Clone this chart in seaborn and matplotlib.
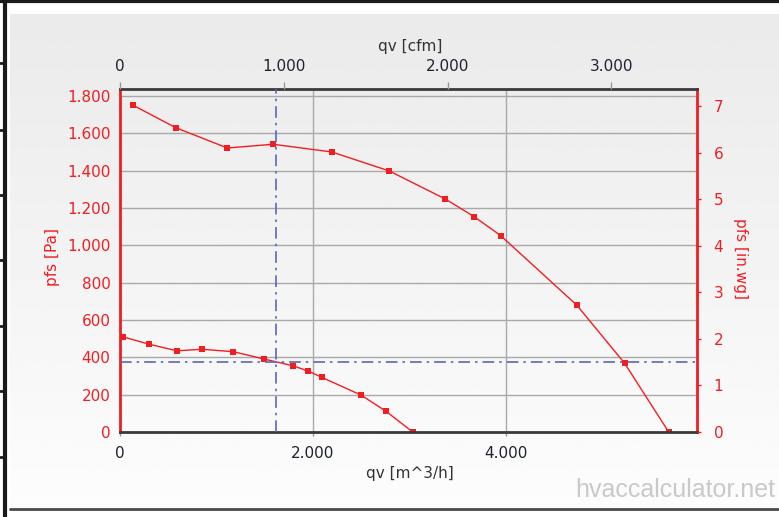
import numpy as np
import pandas as pd
import matplotlib
matplotlib.use('Agg')
import matplotlib.pyplot as plt
import seaborn as sns
from matplotlib.ticker import FuncFormatter

# fan curves: qv [m^3/h] / pfs [Pa]
upper_q = [130, 576, 1112, 1586, 2195, 2793, 3374, 3675, 3949, 4738, 5236, 5693]
upper_p = [1751, 1630, 1521, 1541, 1500, 1398, 1248, 1153, 1052, 680, 368, 0]
lower_q = [26, 302, 586, 852, 1174, 1492, 1790, 1950, 2091, 2499, 2759, 3036]
lower_p = [510, 470, 435, 443, 430, 391, 355, 327, 293, 198, 111, 0]

# operating point (dash-dot cross)
op_q = 1614
op_p = 376

# axes ranges and ticks
q_max = 5987
p_max = 1837
q_ticks = [0, 2000, 4000]
p_ticks = [0, 200, 400, 600, 800, 1000, 1200, 1400, 1600, 1800]
cfm_ticks = [0, 1000, 2000, 3000]
inwg_ticks = [0, 1, 2, 3, 4, 5, 6, 7]

M3H_PER_CFM = 1.699
PA_PER_INWG = 249.09

RED = '#f01e23'
BLUE = '#5a68b8'
GRID = '#a9a9a9'
FS = 11

sns.set_style('white')
plt.rcParams['font.family'] = ['DejaVu Sans']

fig = plt.figure(figsize=(7.79, 5.17), dpi=100)
fig.patch.set_facecolor('white')

# background panel with soft gray gradient, page borders
bg = fig.add_axes([0, 0, 1, 1], zorder=-10)
bg.set_xlim(0, 779)
bg.set_ylim(517, 0)
bg.axis('off')
grad = np.linspace(0.918, 0.99, 200).reshape(-1, 1)
bg.imshow(grad, cmap='gray', vmin=0, vmax=1, aspect='auto',
          extent=[10, 779, 507, 14], interpolation='bilinear')
bg.plot([10, 779], [509, 509], color='#4a4a4a', lw=2)
bg.plot([0, 779], [1, 1], color='#1a1a1a', lw=3)
bg.plot([5.5, 5.5], [0, 517], color='#1a1a1a', lw=3)
for yy in [63, 130, 195, 260, 326, 391, 457]:
    bg.plot([0, 5], [yy, yy], color='#1a1a1a', lw=2)
bg.text(775, 497, 'hvaccalculator.net', ha='right', va='baseline',
        fontsize=18, color='#c9c9c9', family=['Liberation Sans', 'DejaVu Sans'])

ax = fig.add_axes([120.2 / 779, 1 - 432 / 517, 576.8 / 779, 343 / 517])
ax.patch.set_alpha(0)

upper = pd.DataFrame({'qv': upper_q, 'pfs': upper_p})
lower = pd.DataFrame({'qv': lower_q, 'pfs': lower_p})
for df in [upper, lower]:
    sns.lineplot(data=df, x='qv', y='pfs', ax=ax, color=RED, lw=1,
                 marker='s', markersize=5, markeredgewidth=0, sort=False)

ax.axvline(op_q, color=BLUE, lw=1.2, ls=(0, (7, 3, 1.5, 3)), zorder=3)
ax.axhline(op_p, color=BLUE, lw=1.2, ls=(0, (7, 3, 1.5, 3)), zorder=3)

ax.set_xlim(0, q_max)
ax.set_ylim(0, p_max)
ax.set_xticks(q_ticks)
ax.set_yticks(p_ticks)
fmt = FuncFormatter(lambda v, _: f'{int(round(v)):,}'.replace(',', '.'))
ax.xaxis.set_major_formatter(fmt)
ax.yaxis.set_major_formatter(fmt)
ax.grid(True, color=GRID, lw=1)
ax.set_axisbelow(True)

for s in ['top', 'bottom']:
    ax.spines[s].set_color('#3a3a3a')
    ax.spines[s].set_linewidth(2)
for s in ['left', 'right']:
    ax.spines[s].set_color(RED)
    ax.spines[s].set_linewidth(2)

ax.tick_params(axis='y', length=0, pad=7, labelcolor=RED, labelsize=FS)
ax.tick_params(axis='x', length=3, width=1, color='#999999', pad=7,
               labelcolor='#1e2230', labelsize=FS)

ax.set_xlabel('qv [m^3/h]', color='#333333', fontsize=FS)
ax.xaxis.set_label_coords(0.5024, -0.122)
ax.xaxis.label.set_va('center')
ax.set_ylabel('pfs [Pa]', color=RED, fontsize=FS)
ax.yaxis.set_label_coords(-0.118, 0.51)
ax.yaxis.label.set_va('center')

# secondary scales in imperial units
right = ax.twinx()
right.set_ylim(0, p_max / PA_PER_INWG)
right.set_yticks(inwg_ticks)
right.tick_params(axis='y', length=3, width=1, color=RED, pad=9,
                  labelcolor=RED, labelsize=FS)
right.set_ylabel('pfs [in.wg]', color=RED, fontsize=FS, rotation=270)
right.yaxis.set_label_coords(1.0746, 0.505)
right.yaxis.label.set_va('center')

top = ax.twiny()
top.set_xlim(0, q_max / M3H_PER_CFM)
top.set_xticks(cfm_ticks)
top.xaxis.set_major_formatter(fmt)
top.tick_params(axis='x', length=5, width=1, color='#999999', pad=5.5,
                labelcolor='#1e2230', labelsize=FS)
top.set_xlabel('qv [cfm]', color='#333333', fontsize=FS)
top.xaxis.set_label_coords(0.5024, 1.125)
top.xaxis.label.set_va('center')

for a in [right, top]:
    for s in a.spines.values():
        s.set_visible(False)

fig.savefig('out.png', dpi=100)
